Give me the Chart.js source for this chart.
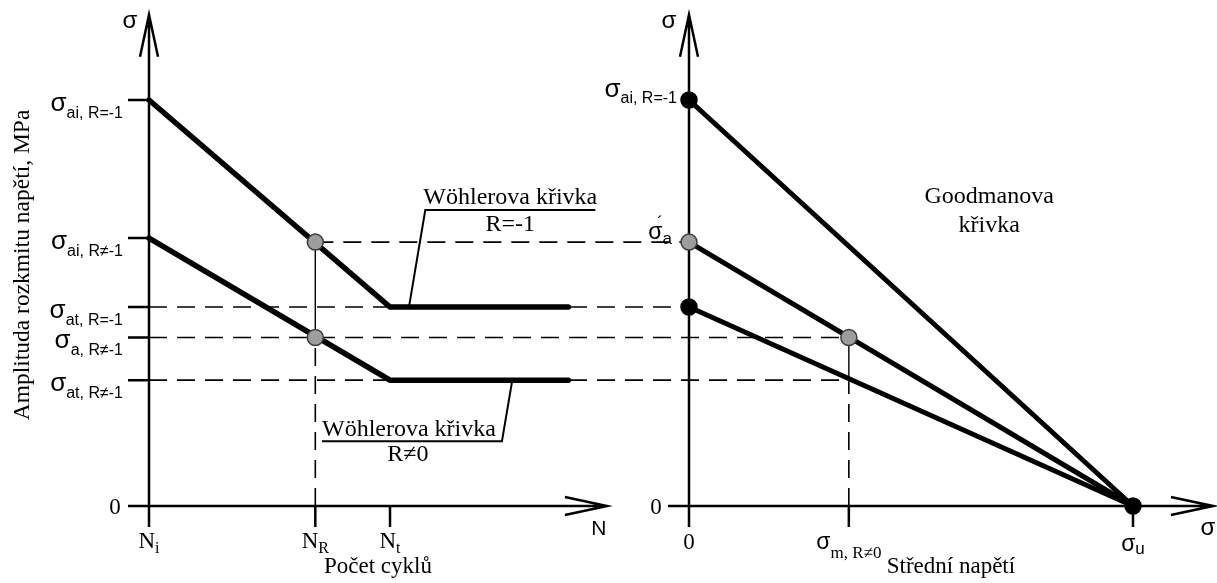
<!DOCTYPE html>
<html>
<head>
<meta charset="utf-8">
<script src="https://cdn.jsdelivr.net/npm/chart.js@4.4.1/dist/chart.umd.min.js"></script>
<style>
  html, body { margin: 0; padding: 0; background: #fff; }
  #wrap { width: 1217px; height: 583px; position: relative; }
</style>
</head>
<body>
<div id="wrap"><canvas id="c"></canvas></div>
<script>
// Fatigue diagram: Wöhler curves (left, vs. number of cycles) and Goodman lines
// (right, vs. mean stress) sharing one stress-amplitude axis σ.

// ---- cycle axis (left panel) ----
const cycleNames = ['i', 'R', 't'];          // N_i, N_R, N_t
const cyclePositions = [0, 69, 100];
const plateauEnd = 174;
const cycleAxisEnd = 190;

// ---- amplitude axis (shared) ----
const amplitudeAxisTop = 121;
const wohlerFullyReversed = [100, 49, 49];   // σai,R=-1 at Ni, then σat,R=-1 from Nt on
const wohlerOtherR = [66, 31, 31];           // σai,R≠-1 at Ni, then σat,R≠-1 from Nt on
const sigmaAPrime = 65;                      // σ'a read at NR on the R=-1 curve
const sigmaARn = 41.5;                       // σa,R≠-1 read at NR on the R≠-1 curve

// ---- mean-stress axis (right panel) ----
const meanPositions = [0, 36, 100];          // 0, σm,R≠0, σu
const meanAxisEnd = 118;
const goodmanIntercepts = [100, 65, 49];     // amplitude of each Goodman line at σm = 0

// labels of the amplitude levels on the left σ axis
const leftLevels = [wohlerFullyReversed[0], wohlerOtherR[0], wohlerFullyReversed[1], sigmaARn, wohlerOtherR[1]];
const leftLevelSubs = ['ai, R=-1', 'ai, R\u2260-1', 'at, R=-1', 'a, R\u2260-1', 'at, R\u2260-1'];

// horizontal projections between the panels
const projAmplitudes = [sigmaAPrime, wohlerFullyReversed[1], sigmaARn, wohlerOtherR[1]];
const projFromCycle = [cyclePositions[1], cyclePositions[0], cyclePositions[0], cyclePositions[0]];
const projToMean = [meanPositions[0], meanPositions[0], meanPositions[1], meanPositions[1]];

const SANS = '"Liberation Sans", Arial, sans-serif';
const SERIF = '"Liberation Serif", "Times New Roman", serif';
const TICK = 21, HEAD_L = 42, HEAD_W = 9;

function xy(xs, ys) { return xs.map((x, i) => ({ x, y: ys[i] })); }

function drawRich(ctx, x, y, parts, align) {
  const widths = parts.map(p => { ctx.font = p[1]; return ctx.measureText(p[0]).width; });
  const total = widths.reduce((a, b) => a + b, 0);
  let cx = align === 'right' ? x - total : align === 'center' ? x - total / 2 : x;
  ctx.textAlign = 'left';
  ctx.textBaseline = 'alphabetic';
  parts.forEach((p, i) => { ctx.font = p[1]; ctx.fillText(p[0], cx, y + (p[2] || 0)); cx += widths[i]; });
}

function line(ctx, x1, y1, x2, y2) { ctx.beginPath(); ctx.moveTo(x1, y1); ctx.lineTo(x2, y2); ctx.stroke(); }

const background = {
  id: 'background',
  beforeDraw(chart) {
    const ctx = chart.ctx;
    ctx.save(); ctx.fillStyle = '#fff'; ctx.fillRect(0, 0, chart.width, chart.height); ctx.restore();
  }
};

// axes with open arrowheads, ticks and the dashed projection lines
const schemeAxes = {
  id: 'schemeAxes',
  beforeDatasetsDraw(chart) {
    const ctx = chart.ctx, sy = chart.scales.y, sN = chart.scales.xN, sS = chart.scales.xS;
    const oy = sy.getPixelForValue(0), yTop = sy.getPixelForValue(amplitudeAxisTop);
    ctx.save();
    ctx.strokeStyle = '#000';

    ctx.lineWidth = 1.6;
    ctx.setLineDash([18, 10]);
    projAmplitudes.forEach((a, i) => {
      const y = sy.getPixelForValue(a);
      line(ctx, sN.getPixelForValue(projFromCycle[i]), y, sS.getPixelForValue(projToMean[i]), y);
    });
    const xNR = sN.getPixelForValue(cyclePositions[1]);
    line(ctx, xNR, oy, xNR, sy.getPixelForValue(sigmaARn));
    const xSm = sS.getPixelForValue(meanPositions[1]);
    line(ctx, xSm, oy, xSm, sy.getPixelForValue(wohlerOtherR[1]));
    ctx.setLineDash([]);
    ctx.lineWidth = 1.4;
    line(ctx, xNR, sy.getPixelForValue(sigmaARn), xNR, sy.getPixelForValue(sigmaAPrime));
    line(ctx, xSm, sy.getPixelForValue(wohlerOtherR[1]), xSm, sy.getPixelForValue(sigmaARn));

    ctx.lineWidth = 2.5;
    const panels = [
      { s: sN, end: cycleAxisEnd, ticks: cyclePositions, levels: leftLevels.concat([0]) },
      { s: sS, end: meanAxisEnd, ticks: meanPositions, levels: [] }
    ];
    panels.forEach(p => {
      const ox = p.s.getPixelForValue(0), xe = p.s.getPixelForValue(p.end);
      ctx.beginPath();
      ctx.moveTo(ox, oy + TICK); ctx.lineTo(ox, yTop);
      ctx.moveTo(ox - TICK, oy); ctx.lineTo(xe, oy);
      p.ticks.forEach(v => { const x = p.s.getPixelForValue(v); ctx.moveTo(x, oy); ctx.lineTo(x, oy + TICK); });
      p.levels.forEach(v => { const y = sy.getPixelForValue(v); ctx.moveTo(ox - TICK, y); ctx.lineTo(ox, y); });
      ctx.moveTo(ox - HEAD_W, yTop + HEAD_L); ctx.lineTo(ox, yTop); ctx.lineTo(ox + HEAD_W, yTop + HEAD_L);
      ctx.moveTo(xe - HEAD_L, oy - HEAD_W); ctx.lineTo(xe, oy); ctx.lineTo(xe - HEAD_L, oy + HEAD_W);
      ctx.stroke();
    });
    ctx.restore();
  }
};

// texts and the leader annotations
const schemeLabels = {
  id: 'schemeLabels',
  afterDraw(chart) {
    const ctx = chart.ctx, sy = chart.scales.y, sN = chart.scales.xN, sS = chart.scales.xS;
    const oy = sy.getPixelForValue(0), yTop = sy.getPixelForValue(amplitudeAxisTop);
    const lx = sN.getPixelForValue(0), rx = sS.getPixelForValue(0);
    ctx.save();
    ctx.fillStyle = '#000';
    ctx.strokeStyle = '#000';

    // axis names at the arrow tips
    drawRich(ctx, lx - 19, yTop + 13, [['σ', '24px ' + SANS]], 'center');
    drawRich(ctx, rx - 20, yTop + 13, [['σ', '24px ' + SANS]], 'center');
    drawRich(ctx, sN.getPixelForValue(cycleAxisEnd) - 8, oy + 29, [['N', '21px ' + SANS]], 'center');
    drawRich(ctx, sS.getPixelForValue(meanAxisEnd) - 5, oy + 29, [['σ', '24px ' + SANS]], 'center');

    // left σ levels
    leftLevels.forEach((v, i) => {
      const y = sy.getPixelForValue(v);
      drawRich(ctx, lx - 26, y, [['σ', '26px ' + SANS, 11], [leftLevelSubs[i], '16px ' + SANS, 18]], 'right');
    });
    drawRich(ctx, lx - 34, oy + 8, [['0', '23px ' + SERIF]], 'center');
    drawRich(ctx, rx - 33, oy + 8, [['0', '23px ' + SERIF]], 'center');

    // right σ levels
    let y = sy.getPixelForValue(goodmanIntercepts[0]);
    drawRich(ctx, rx - 12, y, [['σ', '26px ' + SANS, -3], ['ai, R=-1', '16px ' + SANS, 3]], 'right');
    y = sy.getPixelForValue(sigmaAPrime);
    drawRich(ctx, rx - 17, y, [['σ', '23px ' + SANS, -3], ['a', '17px ' + SANS, 2]], 'right');
    drawRich(ctx, rx - 29, y - 14, [['\u00B4', '17px ' + SANS]], 'center');

    // cycle ticks
    cyclePositions.forEach((v, i) => {
      drawRich(ctx, sN.getPixelForValue(v), oy + 42, [['N', '23px ' + SERIF], [cycleNames[i], '16px ' + SERIF, 5]], 'center');
    });
    drawRich(ctx, (lx + sN.getPixelForValue(cycleAxisEnd)) / 2, oy + 67, [['Počet cyklů', '23px ' + SERIF]], 'center');

    // mean stress ticks
    drawRich(ctx, sS.getPixelForValue(meanPositions[0]), oy + 43, [['0', '23px ' + SERIF]], 'center');
    drawRich(ctx, sS.getPixelForValue(meanPositions[1]), oy + 43, [['σ', '23px ' + SANS], ['m, R\u22600', '17px ' + SERIF, 9]], 'center');
    drawRich(ctx, sS.getPixelForValue(meanPositions[2]), oy + 45, [['σ', '23px ' + SANS], ['u', '17px ' + SANS, 3]], 'center');
    drawRich(ctx, (rx + sS.getPixelForValue(meanAxisEnd)) / 2, oy + 67, [['Střední napětí', '23px ' + SERIF]], 'center');

    // ordinate title
    ctx.save();
    ctx.translate(23, 265);
    ctx.rotate(-Math.PI / 2);
    ctx.font = '23.5px ' + SERIF; ctx.textAlign = 'center'; ctx.textBaseline = 'middle';
    ctx.fillText('Amplituda rozkmitu napětí, MPa', 0, 0);
    ctx.restore();

    // Goodman caption
    const gx = sS.getPixelForValue(67.6), gy = sy.getPixelForValue(74.6);
    drawRich(ctx, gx, gy, [['Goodmanova', '24px ' + SERIF]], 'center');
    drawRich(ctx, gx, gy + 29, [['křivka', '24px ' + SERIF]], 'center');

    // leader annotations of the Wöhler curves
    ctx.lineWidth = 2;
    let ax = sN.getPixelForValue(108), ay = sy.getPixelForValue(wohlerFullyReversed[1]);
    let tx = ax + 16, ty = ay - 97;
    ctx.beginPath(); ctx.moveTo(ax, ay - 2); ctx.lineTo(tx, ty); ctx.lineTo(tx + 170, ty); ctx.stroke();
    drawRich(ctx, tx + 85, ty - 6, [['Wöhlerova křivka', '24px ' + SERIF]], 'center');
    drawRich(ctx, tx + 85, ty + 21, [['R=-1', '24px ' + SERIF]], 'center');

    ax = sN.getPixelForValue(150.6); ay = sy.getPixelForValue(wohlerOtherR[1]);
    tx = ax - 10; ty = ay + 61;
    ctx.beginPath(); ctx.moveTo(ax, ay + 2); ctx.lineTo(tx, ty); ctx.lineTo(tx - 180, ty); ctx.stroke();
    drawRich(ctx, tx - 93, ty - 5, [['Wöhlerova křivka', '24px ' + SERIF]], 'center');
    drawRich(ctx, tx - 94, ty + 20, [['R\u22600', '24px ' + SERIF]], 'center');

    ctx.restore();
  }
};

const thick = {
  showLine: true, pointRadius: 0, borderColor: '#000', borderWidth: 5.5,
  borderCapStyle: 'round', borderJoinStyle: 'miter', fill: false, tension: 0, order: 2
};
const greyPt = {
  showLine: false, pointRadius: 8, pointBackgroundColor: '#9d9d9d',
  pointBorderColor: '#3c3c3c', pointBorderWidth: 1.5, order: 0
};

new Chart(document.getElementById('c'), {
  type: 'scatter',
  data: {
    datasets: [
      { ...thick, label: 'Wöhlerova křivka R=-1', xAxisID: 'xN',
        data: xy([cyclePositions[0], cyclePositions[2], plateauEnd], wohlerFullyReversed) },
      { ...thick, label: 'Wöhlerova křivka R≠0', xAxisID: 'xN',
        data: xy([cyclePositions[0], cyclePositions[2], plateauEnd], wohlerOtherR) },
      ...goodmanIntercepts.map(g => ({ ...thick, borderWidth: 5, label: 'Goodmanova křivka', xAxisID: 'xS',
        data: xy([meanPositions[0], meanPositions[2]], [g, 0]) })),
      { ...greyPt, label: 'NR', xAxisID: 'xN',
        data: xy([cyclePositions[1], cyclePositions[1]], [sigmaAPrime, sigmaARn]) },
      { ...greyPt, label: 'σm', xAxisID: 'xS',
        data: xy([meanPositions[0], meanPositions[1]], [sigmaAPrime, sigmaARn]) },
      { ...greyPt, label: 'limits', xAxisID: 'xS', pointBackgroundColor: '#000', pointBorderColor: '#000',
        data: xy([meanPositions[0], meanPositions[0], meanPositions[2]], [goodmanIntercepts[0], goodmanIntercepts[2], 0]) }
    ]
  },
  options: {
    responsive: true,
    maintainAspectRatio: false,
    animation: false,
    devicePixelRatio: 1,
    layout: { autoPadding: false, padding: 0 },
    plugins: { legend: { display: false }, tooltip: { enabled: false } },
    scales: {
      xN: { type: 'linear', axis: 'x', display: false, min: -61.83, max: 443.15 },
      xS: { type: 'linear', axis: 'x', display: false, min: -155.18, max: 118.92 },
      y:  { type: 'linear', axis: 'y', display: false, min: -18.97, max: 124.63 }
    }
  },
  plugins: [background, schemeAxes, schemeLabels]
});
</script>
</body>
</html>
